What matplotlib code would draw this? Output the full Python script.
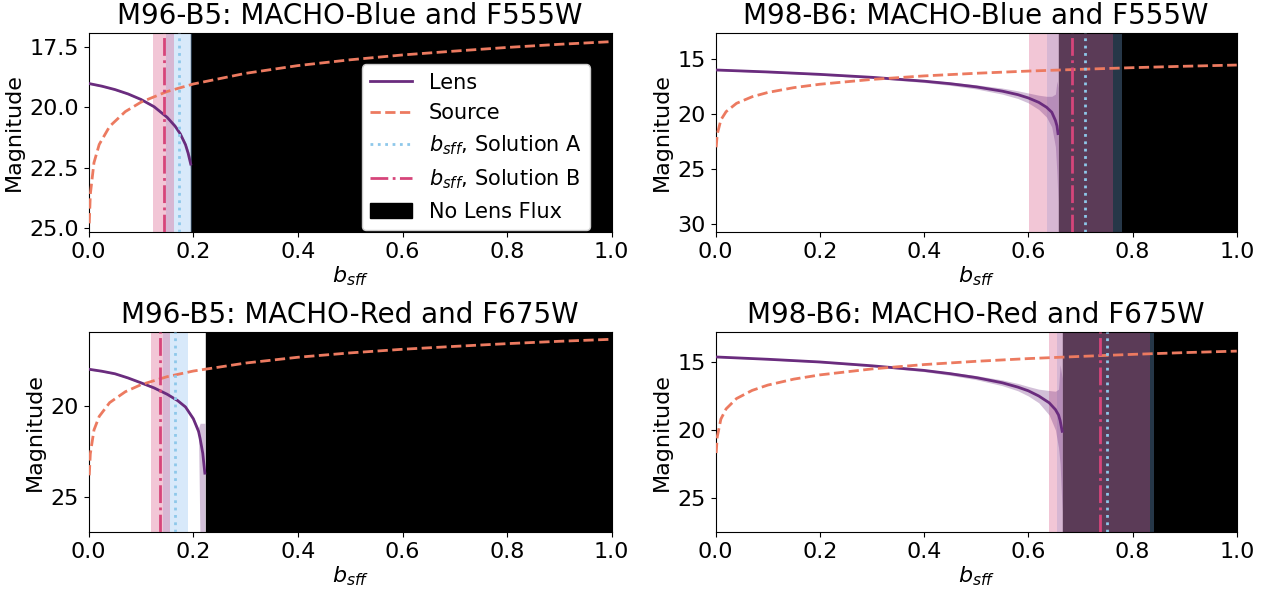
import matplotlib
matplotlib.use("Agg")
import matplotlib.pyplot as plt

# titulos de cada panel
titles = ["M96-B5: MACHO-Blue and F555W", "M98-B6: MACHO-Blue and F555W",
          "M96-B5: MACHO-Red and F675W", "M98-B6: MACHO-Red and F675W"]

# fuente: magnitud vs b_sff
src_b = [0.001, 0.003, 0.01, 0.02, 0.04, 0.07, 0.1, 0.15, 0.2, 0.3, 0.4,
         0.5, 0.6, 0.7, 0.8, 0.9, 1.0]
src_m1 = [24.8, 23.6, 22.29, 21.54, 20.79, 20.18, 19.79, 19.35, 19.04, 18.6,
          18.28, 18.04, 17.84, 17.68, 17.53, 17.40, 17.29]
src_m2 = [23.05, 21.86, 20.55, 19.8, 19.04, 18.44, 18.05, 17.61, 17.30, 16.86,
          16.54, 16.30, 16.10, 15.94, 15.79, 15.66, 15.55]
src_m3 = [23.82, 22.63, 21.32, 20.57, 19.81, 19.21, 18.82, 18.38, 18.07, 17.63,
          17.31, 17.07, 16.87, 16.71, 16.56, 16.43, 16.32]
src_m4 = [21.7, 20.51, 19.2, 18.45, 17.69, 17.09, 16.7, 16.26, 15.95, 15.51,
          15.19, 14.95, 14.75, 14.59, 14.44, 14.31, 14.2]

# lente: curva y banda de incertidumbre
lens_x1 = [0, 0.025, 0.05, 0.075, 0.1, 0.125, 0.15, 0.165, 0.175, 0.185, 0.19, 0.195]
lens_m1 = [19.02, 19.13, 19.27, 19.45, 19.68, 19.98, 20.42, 20.78, 21.1, 21.55, 21.9, 22.35]
lens_lo1 = [18.99, 19.1, 19.24, 19.42, 19.64, 19.94, 20.37, 20.72, 21.03, 21.45, 21.75, 22.1]
lens_hi1 = [19.05, 19.16, 19.3, 19.48, 19.72, 20.02, 20.47, 20.84, 21.17, 21.65, 22.05, 22.6]

lens_x2 = [0, 0.1, 0.2, 0.3, 0.4, 0.45, 0.5, 0.55, 0.58, 0.6, 0.62, 0.635, 0.645,
           0.652, 0.655, 0.657]
lens_m2 = [16.0, 16.18, 16.4, 16.67, 17.02, 17.25, 17.54, 17.93, 18.25, 18.55, 18.95,
           19.4, 19.85, 20.6, 21.1, 21.8]
lens_lo2 = [15.95, 16.12, 16.33, 16.58, 16.9, 17.1, 17.35, 17.65, 17.9, 18.1, 18.3,
            18.4, 18.4, 18.2, 17.0, 17.6]
lens_hi2 = [16.05, 16.24, 16.47, 16.76, 17.14, 17.4, 17.73, 18.2, 18.6, 19.0, 19.6,
            20.3, 21.2, 23.0, 25.5, 28.0]

lens_x3 = [0, 0.025, 0.05, 0.075, 0.1, 0.125, 0.15, 0.17, 0.185, 0.2, 0.21, 0.213,
           0.218, 0.222]
lens_m3 = [17.97, 18.08, 18.22, 18.45, 18.72, 19.0, 19.35, 19.7, 20.05, 20.7, 21.4,
           21.8, 22.6, 23.7]
lens_lo3 = [17.93, 18.04, 18.18, 18.41, 18.68, 18.95, 19.3, 19.64, 19.98, 20.6, 21.2,
            20.95, 20.95, 20.95]
lens_hi3 = [18.01, 18.12, 18.26, 18.49, 18.77, 19.06, 19.41, 19.77, 20.13, 20.85, 21.6,
            28.0, 28.0, 28.0]

lens_x4 = [0, 0.1, 0.2, 0.3, 0.4, 0.45, 0.5, 0.55, 0.58, 0.6, 0.62, 0.64, 0.652,
           0.658, 0.661, 0.665]
lens_m4 = [14.63, 14.8, 15.0, 15.28, 15.62, 15.86, 16.15, 16.53, 16.85, 17.12, 17.5,
           18.0, 18.5, 18.9, 19.3, 20.1]
lens_lo4 = [14.6, 14.76, 14.95, 15.21, 15.53, 15.74, 16.0, 16.32, 16.58, 16.8, 17.0,
            17.1, 17.15, 17.0, 15.2, 16.2]
lens_hi4 = [14.66, 14.84, 15.05, 15.35, 15.71, 15.98, 16.3, 16.74, 17.12, 17.5, 18.0,
            18.9, 20.0, 21.3, 22.5, 26.0]

# soluciones b_sff: centro, rango
sol_a = [0.173, 0.709, 0.165, 0.751]
sol_a_lo = [0.148, 0.636, 0.1415, 0.655]
sol_a_hi = [0.198, 0.780, 0.1895, 0.841]
sol_b = [0.143, 0.683, 0.136, 0.738]
sol_b_lo = [0.1235, 0.602, 0.119, 0.640]
sol_b_hi = [0.1625, 0.763, 0.1555, 0.834]
# inicio de la zona sin flujo de la lente
no_lens = [0.195, 0.658, 0.224, 0.666]

# limites y ticks en magnitud
ylims = [(25.17, 16.92), (30.8, 12.6), (26.96, 15.9), (27.53, 12.77)]
yticks = [[17.5, 20.0, 22.5, 25.0], [15, 20, 25, 30], [20, 25], [15, 20, 25]]

src_ms = [src_m1, src_m2, src_m3, src_m4]
lens_xs = [lens_x1, lens_x2, lens_x3, lens_x4]
lens_ms = [lens_m1, lens_m2, lens_m3, lens_m4]
lens_los = [lens_lo1, lens_lo2, lens_lo3, lens_lo4]
lens_his = [lens_hi1, lens_hi2, lens_hi3, lens_hi4]

c_lens = '#6a2c7e'
c_src = '#ec7a60'
c_a = '#8ec8ea'
c_a_band = '#7fb8ef'
c_b = '#d6457a'

fig = plt.figure(figsize=(12.66, 5.91), dpi=100)
posiciones = [[0.0701, 0.6069, 0.4131, 0.3378], [0.5653, 0.6069, 0.4116, 0.3378],
              [0.0701, 0.0993, 0.4131, 0.3395], [0.5653, 0.0993, 0.4116, 0.3395]]

for i in range(4):
    ax = fig.add_axes(posiciones[i])
    ax.axvspan(no_lens[i], 1.0, color='k', zorder=0, label='No Lens Flux')
    ax.axvspan(sol_a_lo[i], sol_a_hi[i], color=c_a_band, alpha=0.3, lw=0, zorder=1)
    ax.axvspan(sol_b_lo[i], sol_b_hi[i], color=c_b, alpha=0.3, lw=0, zorder=1)
    ax.fill_between(lens_xs[i], lens_los[i], lens_his[i], color=c_lens, alpha=0.3,
                    lw=0, zorder=2)
    ax.plot(lens_xs[i], lens_ms[i], color=c_lens, lw=2, zorder=3, label='Lens')
    ax.plot(src_b, src_ms[i], color=c_src, lw=2, ls='--', zorder=3, label='Source')
    ax.axvline(sol_a[i], color=c_a, lw=2, ls=':', zorder=4,
               label=r'$b_{sff}$, Solution A')
    ax.axvline(sol_b[i], color=c_b, lw=2, ls='-.', zorder=4,
               label=r'$b_{sff}$, Solution B')
    ax.set_xlim(0, 1)
    ax.set_ylim(*ylims[i])
    ax.set_yticks(yticks[i])
    ax.set_xticks([0.0, 0.2, 0.4, 0.6, 0.8, 1.0])
    ax.tick_params(labelsize=16)
    ax.set_title(titles[i], fontsize=20)
    ax.set_xlabel(r'$b_{sff}$', fontsize=16, labelpad=2)
    ax.set_ylabel('Magnitude', fontsize=16)
    if i == 0:
        h, l = ax.get_legend_handles_labels()
        orden = [l.index(n) for n in ['Lens', 'Source', r'$b_{sff}$, Solution A',
                                       r'$b_{sff}$, Solution B', 'No Lens Flux']]
        ax.legend([h[k] for k in orden], [l[k] for k in orden], loc='lower right',
                  bbox_to_anchor=(0.958, 0.012), borderaxespad=0,
                  fontsize=15, framealpha=1)

plt.savefig("out.png", dpi=100)
